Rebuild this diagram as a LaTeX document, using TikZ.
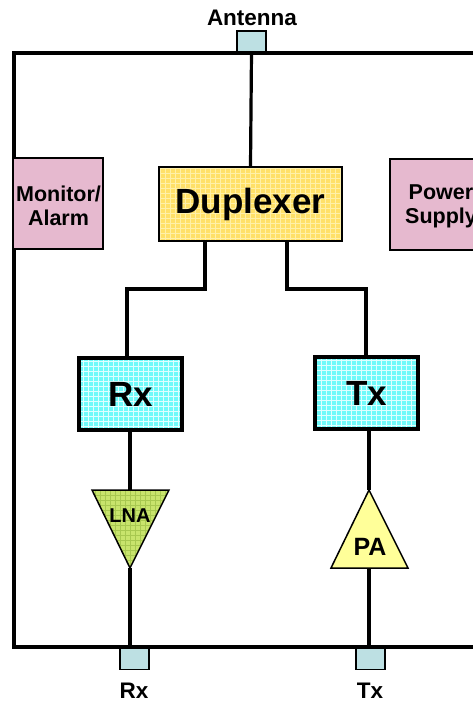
\documentclass[tikz,border=0pt]{standalone}
\usepackage{fontspec}
\setmainfont{Liberation Sans}
\definecolor{portc}{HTML}{BDE0E3}
\definecolor{pinkc}{HTML}{E6B9CF}
\definecolor{dupc}{HTML}{FFE068}
\definecolor{dupg}{HTML}{FFF0A8}
\definecolor{cyanc}{HTML}{70FAFA}
\definecolor{cyang}{HTML}{E0FFFF}
\definecolor{lnac}{HTML}{C8E46C}
\definecolor{lnag}{HTML}{A8C850}
\definecolor{pac}{HTML}{FFFF99}
\begin{document}
\begin{tikzpicture}[x=1pt,y=-1pt,
  wire/.style={line width=3.2pt},
  gridfill/.style={path picture={\draw[#1,line width=0.7pt,step=5pt] (path picture bounding box.south west) grid (path picture bounding box.north east);}},
  portbox/.style={draw,line width=1.2pt,fill=portc,minimum width=29pt,minimum height=21pt,inner sep=0pt},
  pinkbox/.style={draw,line width=1.5pt,fill=pinkc,minimum width=90pt,minimum height=91pt,inner sep=0pt},
  sidetext/.style={font=\fontsize{21.5}{24}\selectfont\bfseries,align=center,inner sep=0pt},
  trxbox/.style={draw,line width=4pt,fill=cyanc,gridfill=cyang,minimum width=103pt,minimum height=72pt,inner sep=0pt,font=\fontsize{35}{36}\selectfont\bfseries},
  lbl/.style={font=\fontsize{22.5}{24}\selectfont\bfseries,inner sep=0pt}
]
\useasboundingbox (0,0) rectangle (473,702);
% frame
\draw[wire] (490,53) -- (14,53) -- (14,647) -- (490,647);
% ports
\node[portbox] (ant) at (251.5,41.5) {};
\node[portbox] (rxp) at (134.5,659) {};
\node[portbox] (txp) at (370.5,659) {};
\node[lbl,anchor=base] (antl) at (252,25) {Antenna};
\node[lbl,anchor=base] (rxl) at (134,698) {Rx};
\node[lbl,anchor=base] (txl) at (370,698) {Tx};
% side boxes
\node[pinkbox] (mon) at (58,203.5) {};
\node[sidetext] (monl) at (58.5,206) {Monitor/\\Alarm};
\node[pinkbox,minimum width=102pt] (pow) at (441,204.5) {};
\node[sidetext] (powl) at (441,206) {Power\\Supply};
% duplexer
\node[draw,line width=1.5pt,fill=dupc,gridfill=dupg,minimum width=183pt,minimum height=74pt,inner sep=0pt,font=\fontsize{35}{36}\selectfont\bfseries] (dup) at (250.5,204) {Duplexer};
% Rx / Tx
\node[trxbox] (rx) at (130.5,394) {Rx};
\node[trxbox] (tx) at (366.5,393) {Tx};
% LNA
\coordinate (lnaT) at (130,490);
\coordinate (lnaB) at (130,568);
\draw[line width=1.5pt,fill=lnac,gridfill=lnag] (92,490) -- (169,490) -- (lnaB) -- cycle;
\node[font=\fontsize{20}{20}\selectfont\bfseries] (lna) at (130,516) {LNA};
% PA
\coordinate (paT) at (369,490);
\coordinate (paB) at (369,568);
\draw[line width=1.5pt,fill=pac] (paT) -- (408,568) -- (331,568) -- cycle;
\node[font=\fontsize{25}{26}\selectfont\bfseries] (pa) at (370,547) {PA};
% connectors
\draw[wire] (ant.south) -- (dup.north);
\draw[wire] (dup.south -| 205,0) |- (127,289) -- (rx.north -| 127,0);
\draw[wire] (dup.south -| 287,0) |- (366,289) -- (tx.north -| 366,0);
\draw[wire] (rx.south -| lnaT) -- (lnaT);
\draw[wire] (tx.south -| paT) -- (paT);
\draw[wire] (lnaB) -- (rxp.north -| lnaB);
\draw[wire] (paB) -- (txp.north -| paB);
\end{tikzpicture}
\end{document}
